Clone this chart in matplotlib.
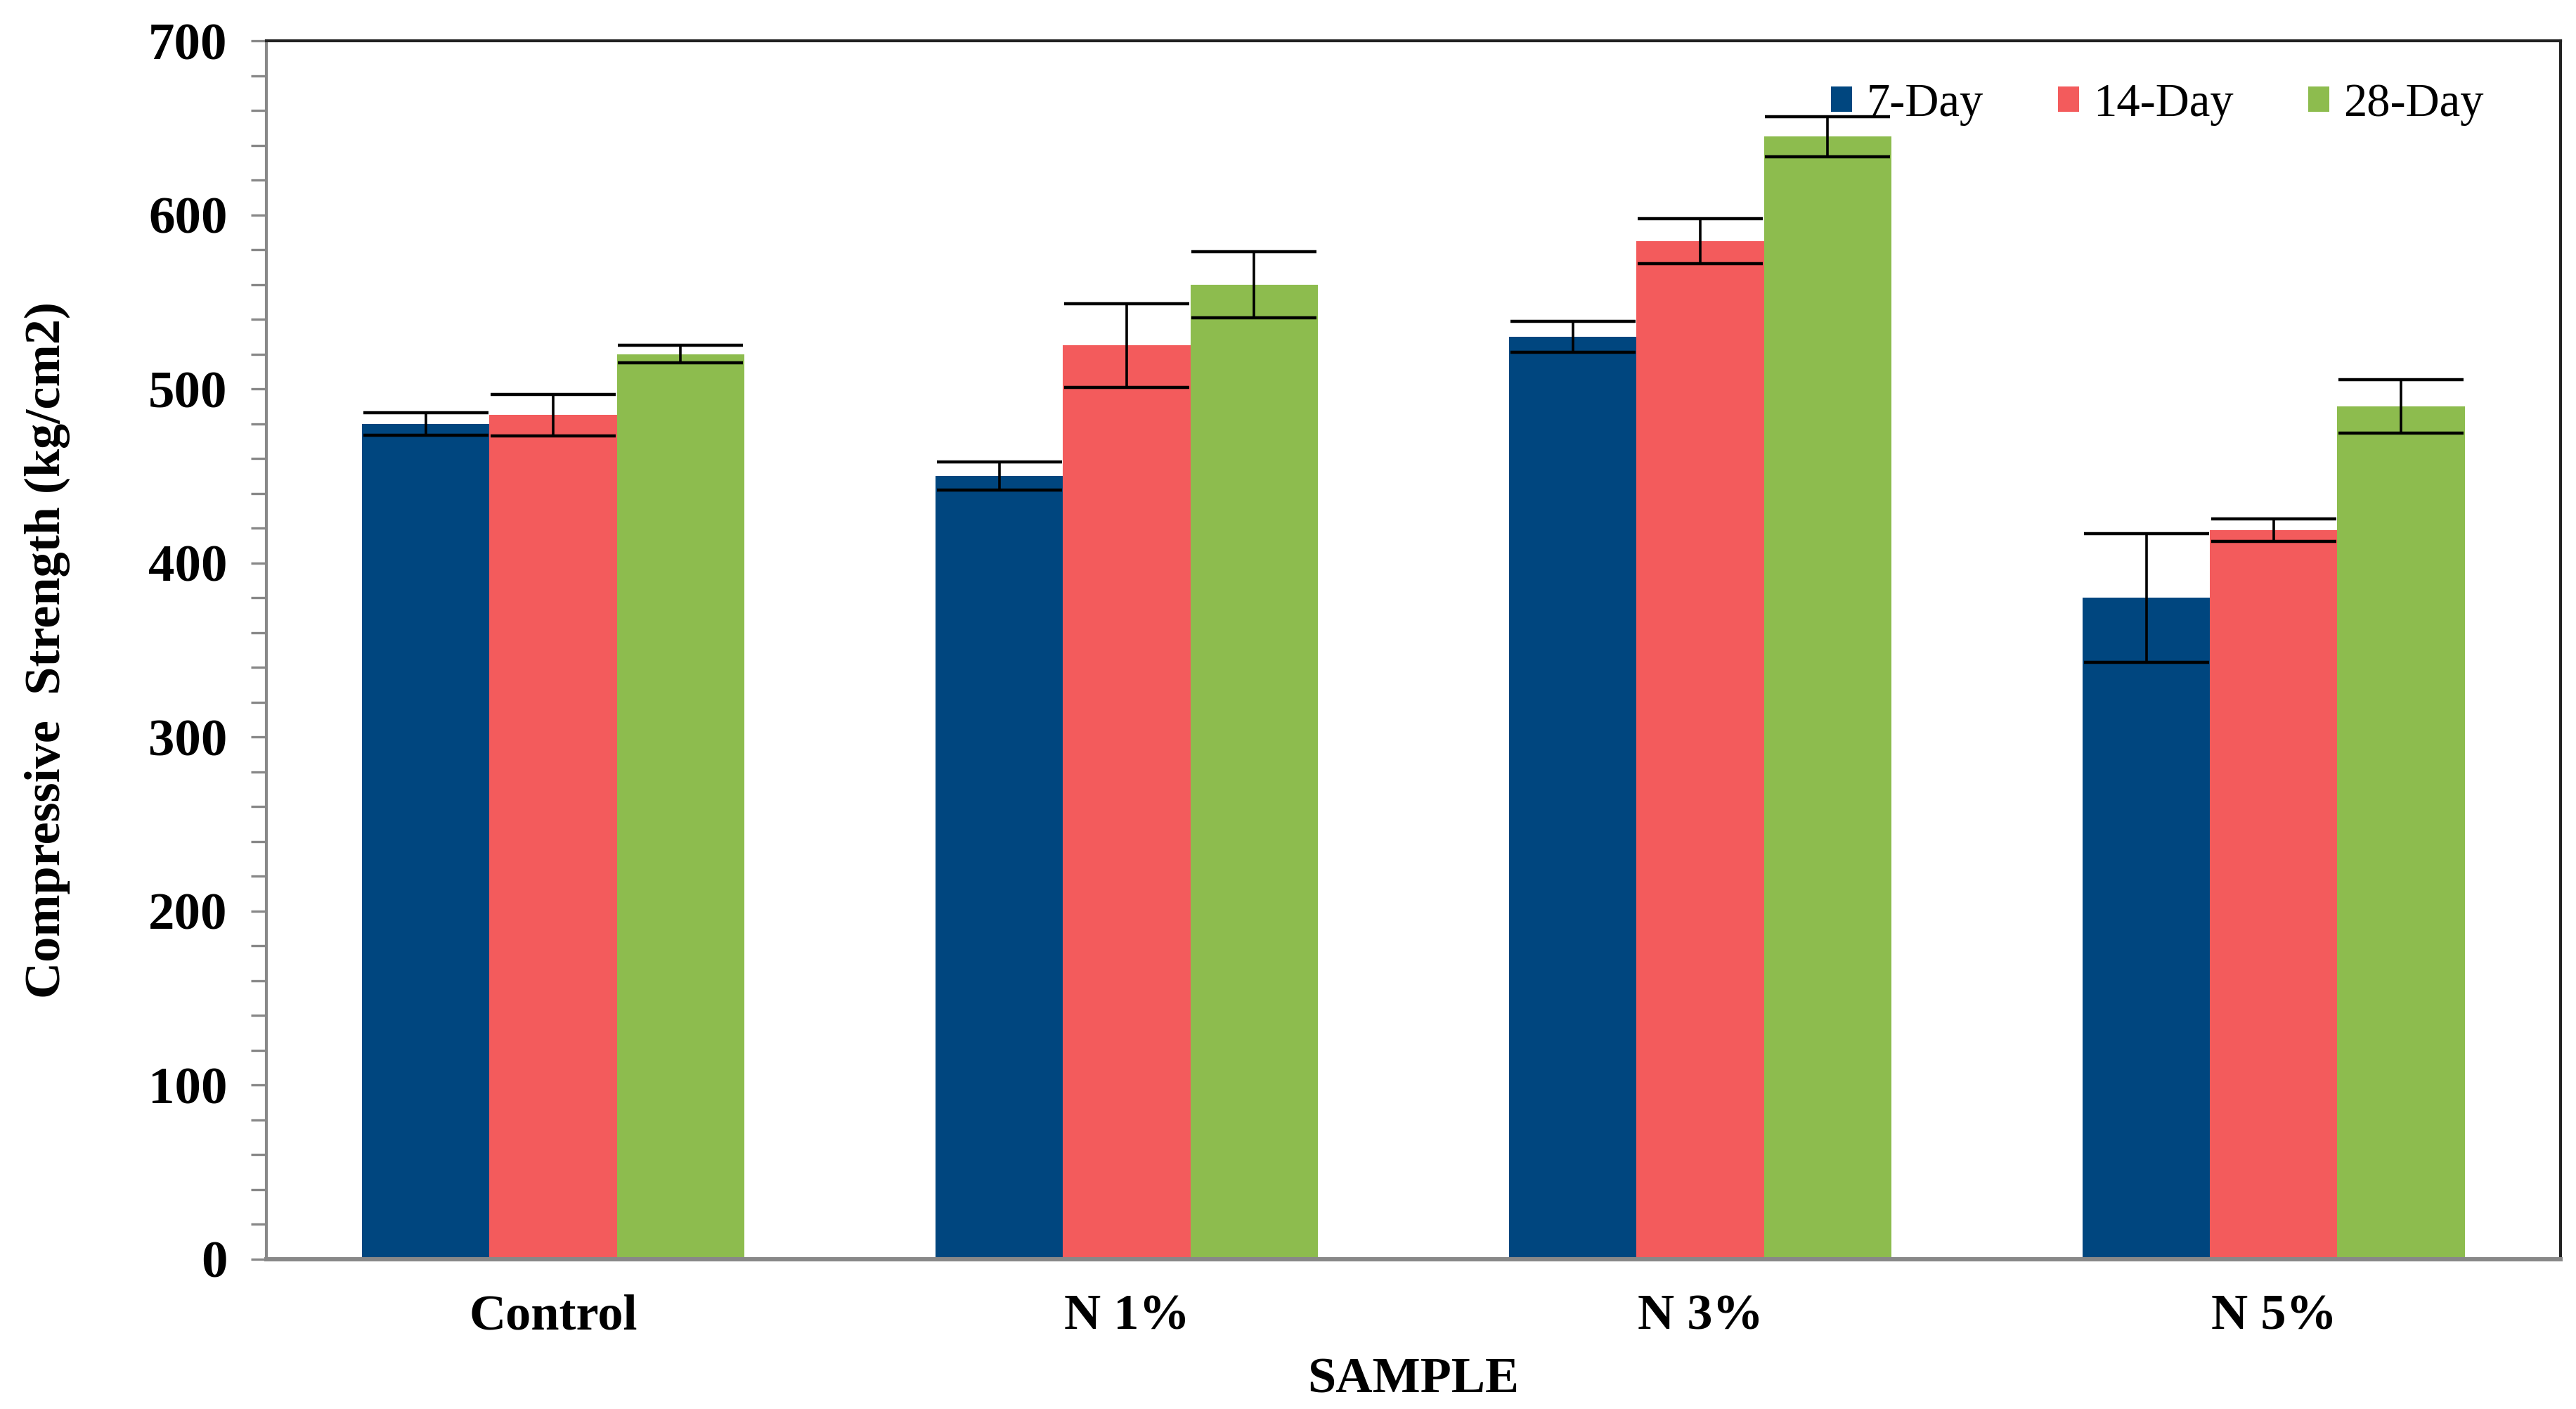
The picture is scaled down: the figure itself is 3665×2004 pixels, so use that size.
import matplotlib.pyplot as plt
import numpy as np

samples = ["Control", "N 1%", "N 3%", "N 5%"]
series = ["7-Day", "14-Day", "28-Day"]
day7 = [480, 450, 530, 380]
day14 = [485, 525, 585, 419]
day28 = [520, 560, 645, 490]
err7 = [6.5, 8, 9, 37]
err14 = [12, 24, 13, 6.5]
err28 = [5, 19, 11.5, 15.5]
colors = ["#00467F", "#F35B5C", "#8DBC4E"]

plt.rcParams['font.family'] = ['Liberation Serif', 'DejaVu Serif']

fig = plt.figure(figsize=(18.33, 10.02), dpi=200)
ax = fig.add_axes([0.1034, 0.1063, 0.8903, 0.8647])

x = np.arange(len(samples))
w = 0.222
for i, (vals, errs) in enumerate(zip([day7, day14, day28], [err7, err14, err28])):
    pos = x + (i - 1) * w
    ax.bar(pos, vals, width=w, color=colors[i], label=series[i], zorder=2)
    ax.errorbar(pos, vals, yerr=errs, fmt='none', ecolor='black',
                elinewidth=1.3, capsize=32, capthick=1.6, zorder=3)

ax.set_xlim(-0.5, 3.5)
ax.set_ylim(0, 700)
ax.set_yticks(np.arange(0, 701, 100))
ax.set_yticks(np.arange(0, 701, 20), minor=True)
ax.set_xticks(x)
ax.set_xticklabels(samples, fontsize=26, fontweight='bold')
ax.tick_params(axis='x', length=0, pad=18)
ax.tick_params(axis='y', which='both', direction='out', length=8, width=1.2,
               color='#888888', labelsize=27, pad=12)
for lab in ax.get_yticklabels():
    lab.set_fontweight('bold')

for s in ['top', 'right']:
    ax.spines[s].set_color('#222222')
    ax.spines[s].set_linewidth(1.5)
ax.spines['left'].set_color('#888888')
ax.spines['left'].set_linewidth(1.5)
ax.spines['bottom'].set_color('#888888')
ax.spines['bottom'].set_linewidth(2.2)

ax.set_ylabel("Compressive  Strength (kg/cm2)", fontsize=26, fontweight='bold', labelpad=40)
ax.set_xlabel("SAMPLE", fontsize=26, fontweight='bold', labelpad=9)

ax.legend(loc='upper right', ncol=3, frameon=False, fontsize=24,
          handlelength=0.45, handleheight=0.45, handletextpad=0.3,
          columnspacing=1.6, bbox_to_anchor=(0.985, 1.0))

fig.savefig("out.png", dpi=200)
